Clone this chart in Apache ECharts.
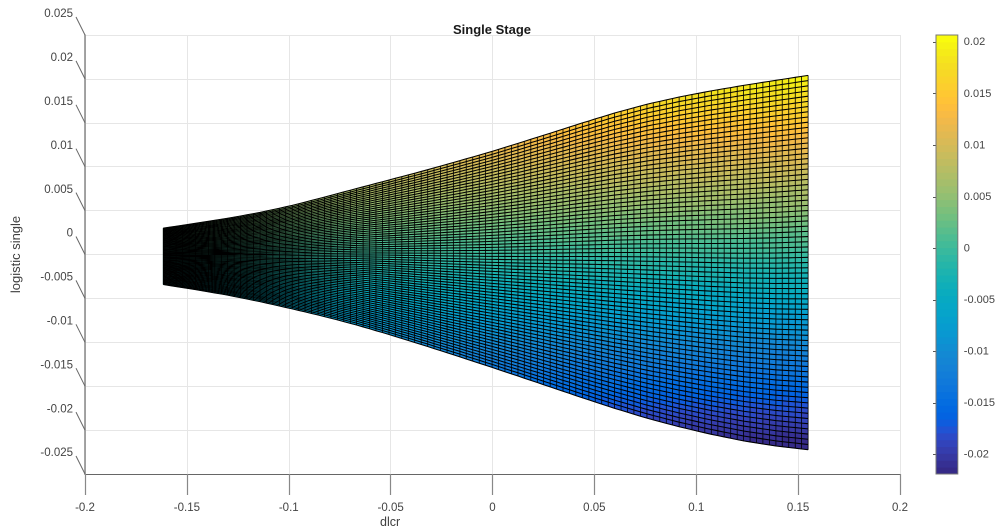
<!DOCTYPE html>
<html>
<head>
<meta charset="utf-8">
<style>html,body{margin:0;padding:0;background:#fff}#c{width:998px;height:528px}#c canvas{filter:blur(0.4px)}</style>
<script src="https://cdn.jsdelivr.net/npm/echarts@6/dist/echarts.min.js"></script>
</head>
<body>
<div id="c"></div>
<script>
const columnX = [
-0.1616,-0.1584,-0.1553,-0.1521,-0.1489,-0.1458,-0.1426,-0.1394,-0.1363,-0.1331,
-0.1300,-0.1268,-0.1236,-0.1205,-0.1173,-0.1141,-0.1110,-0.1078,-0.1046,-0.1015,
-0.0983,-0.0951,-0.0920,-0.0888,-0.0856,-0.0825,-0.0793,-0.0761,-0.0730,-0.0698,
-0.0667,-0.0635,-0.0603,-0.0572,-0.0540,-0.0508,-0.0477,-0.0445,-0.0413,-0.0382,
-0.0350,-0.0318,-0.0287,-0.0255,-0.0223,-0.0192,-0.0160,-0.0129,-0.0097,-0.0065,
-0.0034,-0.0002,0.0030,0.0061,0.0093,0.0125,0.0156,0.0188,0.0220,0.0251,
0.0283,0.0315,0.0346,0.0378,0.0409,0.0441,0.0473,0.0504,0.0536,0.0568,
0.0599,0.0631,0.0663,0.0694,0.0726,0.0758,0.0789,0.0821,0.0853,0.0884,
0.0916,0.0948,0.0979,0.1011,0.1042,0.1074,0.1106,0.1137,0.1169,0.1201,
0.1232,0.1264,0.1296,0.1327,0.1359,0.1391,0.1422,0.1454,0.1486,0.1517,0.1549];
const upperEdge = [
.00300,.00311,.00322,.00333,.00344,.00355,.00367,.00378,.00390,.00401,
.00413,.00426,.00439,.00453,.00466,.00479,.00495,.00511,.00527,.00543,
.00559,.00578,.00597,.00616,.00635,.00654,.00674,.00693,.00713,.00732,
.00752,.00771,.00790,.00810,.00829,.00848,.00868,.00887,.00907,.00926,
.00946,.00966,.00987,.01007,.01028,.01048,.01069,.01090,.01111,.01132,
.01153,.01175,.01198,.01220,.01243,.01265,.01288,.01312,.01335,.01358,
.01381,.01405,.01428,.01452,.01475,.01499,.01521,.01544,.01566,.01589,
.01611,.01631,.01651,.01671,.01691,.01711,.01728,.01744,.01761,.01777,
.01794,.01808,.01822,.01836,.01850,.01864,.01876,.01889,.01901,.01914,
.01926,.01938,.01949,.01961,.01972,.01984,.01995,.02006,.02018,.02029,.02040];
const lowerEdge = [
-.00342,-.00354,-.00365,-.00377,-.00388,-.00400,-.00413,-.00425,-.00438,-.00450,
-.00463,-.00478,-.00493,-.00507,-.00522,-.00537,-.00553,-.00570,-.00586,-.00603,
-.00619,-.00637,-.00654,-.00672,-.00689,-.00707,-.00726,-.00745,-.00765,-.00784,
-.00803,-.00825,-.00846,-.00868,-.00889,-.00911,-.00934,-.00957,-.00979,-.01002,
-.01025,-.01048,-.01072,-.01095,-.01119,-.01142,-.01166,-.01190,-.01214,-.01238,
-.01262,-.01286,-.01311,-.01335,-.01360,-.01384,-.01409,-.01434,-.01458,-.01483,
-.01508,-.01533,-.01558,-.01582,-.01607,-.01632,-.01656,-.01680,-.01704,-.01728,
-.01752,-.01774,-.01797,-.01819,-.01842,-.01864,-.01884,-.01903,-.01923,-.01942,
-.01962,-.01979,-.01996,-.02014,-.02031,-.02048,-.02063,-.02078,-.02093,-.02108,
-.02123,-.02135,-.02146,-.02158,-.02169,-.02181,-.02189,-.02198,-.02206,-.02215,-.02223];
const rowFractions = [
0,.0139,.0278,.0417,.0556,.0694,.0833,.0972,.1111,.1250,.1389,.1528,.1667,.1806,.1944,.2083,.2222,.2361,.2500,
.2639,.2778,.2917,.3056,.3194,.3333,.3472,.3611,.3750,.3889,.4028,.4167,.4306,.4444,.4583,.4722,.4861,.5000,
.5139,.5278,.5417,.5556,.5694,.5833,.5972,.6111,.6250,.6389,.6528,.6667,.6806,.6944,.7083,.7222,.7361,.7500,
.7639,.7778,.7917,.8056,.8194,.8333,.8472,.8611,.8750,.8889,.9028,.9167,.9306,.9444,.9583,.9722,.9861,1];
const parula = [
[.2081,.1663,.5292],[.2116,.1898,.5777],[.2123,.2138,.6270],[.2081,.2386,.6771],[.1959,.2645,.7279],[.1707,.2919,.7792],
[.1253,.3242,.8303],[.0591,.3598,.8683],[.0117,.3875,.8820],[.0060,.4086,.8828],[.0165,.4266,.8786],[.0329,.4430,.8720],
[.0498,.4586,.8641],[.0629,.4737,.8554],[.0723,.4887,.8467],[.0779,.5040,.8384],[.0793,.5200,.8312],[.0749,.5375,.8263],
[.0641,.5570,.8240],[.0488,.5772,.8228],[.0343,.5966,.8199],[.0265,.6137,.8135],[.0239,.6287,.8038],[.0231,.6418,.7913],
[.0228,.6535,.7768],[.0267,.6642,.7607],[.0384,.6743,.7436],[.0590,.6838,.7254],[.0843,.6928,.7062],[.1133,.7015,.6859],
[.1453,.7098,.6646],[.1801,.7177,.6424],[.2178,.7250,.6193],[.2586,.7317,.5954],[.3022,.7376,.5712],[.3482,.7424,.5473],
[.3953,.7459,.5244],[.4420,.7481,.5033],[.4871,.7491,.4840],[.5300,.7491,.4661],[.5709,.7485,.4494],[.6099,.7473,.4337],
[.6473,.7456,.4188],[.6834,.7435,.4044],[.7184,.7411,.3905],[.7525,.7384,.3768],[.7858,.7356,.3633],[.8185,.7327,.3498],
[.8507,.7299,.3360],[.8824,.7274,.3217],[.9139,.7258,.3063],[.9450,.7261,.2886],[.9739,.7314,.2666],[.9938,.7455,.2403],
[.9990,.7653,.2164],[.9955,.7861,.1967],[.9880,.8066,.1794],[.9789,.8271,.1633],[.9697,.8481,.1475],[.9626,.8705,.1309],
[.9589,.8949,.1132],[.9598,.9218,.0948],[.9661,.9514,.0755],[.9763,.9831,.0538]];
const yTicks = [-0.025,-0.02,-0.015,-0.01,-0.005,0,0.005,0.01,0.015,0.02,0.025];
const colorbarTicks = [-0.02,-0.015,-0.01,-0.005,0,0.005,0.01,0.015,0.02];
const cMin = -0.0219, cMax = 0.0207;

const toCss = c => 'rgb(' + c.map(v => Math.round(v * 255)).join(',') + ')';
const colorFor = v => {
  const i = Math.floor((v - cMin) / (cMax - cMin) * parula.length);
  return toCss(parula[Math.max(0, Math.min(parula.length - 1, i))]);
};
const rowValue = (c, r) => lowerEdge[c] + (upperEdge[c] - lowerEdge[c]) * rowFractions[r];

const cells = [];
for (let c = 0; c < columnX.length - 1; c++)
  for (let r = 0; r < rowFractions.length - 1; r++) cells.push([c, r]);

const FONT = '"Liberation Sans", Arial, sans-serif';
const chart = echarts.init(document.getElementById('c'), null, {renderer: 'canvas', devicePixelRatio: 2});
chart.setOption({
  animation: false,
  backgroundColor: '#fff',
  textStyle: {fontFamily: FONT},
  title: [
    {text: 'Single Stage', left: 487, top: 19, textAlign: 'center',
     textStyle: {fontFamily: FONT, fontSize: 13, fontWeight: 'bold', color: '#1a1a1a'}},
    {text: 'dlcr', left: 375, top: 511,
     textStyle: {fontFamily: FONT, fontSize: 12.5, fontWeight: 'normal', color: '#404040'}}
  ],
  grid: [
    {left: 85, top: 35, width: 815, height: 439},
    {left: 936, top: 35, width: 23, height: 439}
  ],
  xAxis: [
    {gridIndex: 0, type: 'value', min: -0.2, max: 0.2, interval: 0.05,
     axisLine: {onZero: false, lineStyle: {color: '#666', width: 1}},
     axisTick: {show: true, length: 21, lineStyle: {color: '#888', width: 1.2}},
     axisLabel: {fontFamily: FONT, fontSize: 11.5, color: '#444', margin: 28, showMinLabel: true, showMaxLabel: true},
     splitLine: {show: true, lineStyle: {color: '#e6e6e6', width: 1}}},
    {gridIndex: 1, type: 'value', min: 0, max: 1, show: false}
  ],
  yAxis: [
    {gridIndex: 0, type: 'value', min: -0.025, max: 0.025, interval: 0.005,
     name: 'logistic single', nameLocation: 'middle', nameRotate: 90, nameGap: 62,
     nameTextStyle: {fontFamily: FONT, fontSize: 13, color: '#404040'},
     axisLine: {show: true, onZero: false, lineStyle: {color: '#888', width: 1.5}},
     axisTick: {show: false},
     axisLabel: {fontFamily: FONT, fontSize: 11.5, color: '#444', margin: 12, verticalAlign: 'bottom',
                 padding: [0, 0, 15, 0], showMinLabel: true, showMaxLabel: true},
     splitLine: {show: true, lineStyle: {color: '#e6e6e6', width: 1}}},
    {gridIndex: 1, type: 'value', min: cMin, max: cMax, position: 'right',
     axisLine: {show: false},
     axisTick: {show: true, inside: true, length: 3, customValues: colorbarTicks, lineStyle: {color: '#555', width: 1}},
     axisLabel: {fontFamily: FONT, fontSize: 11, color: '#444', margin: 6, customValues: colorbarTicks},
     splitLine: {show: false}}
  ],
  series: [
    {type: 'custom', xAxisIndex: 0, yAxisIndex: 0, clip: false, silent: true, z: 3,
     data: yTicks,
     renderItem: (p, api) => {
       const pt = api.coord([-0.2, api.value(0)]);
       return {type: 'line',
               shape: {x1: pt[0], y1: pt[1], x2: pt[0] - 9, y2: pt[1] - 18},
               style: {stroke: '#666', lineWidth: 1}};
     }},
    {type: 'custom', xAxisIndex: 0, yAxisIndex: 0, clip: false, silent: true, z: 4,
     progressive: 0, data: cells,
     renderItem: (p, api) => {
       const c = api.value(0), r = api.value(1);
       const pts = [
         api.coord([columnX[c], rowValue(c, r)]),
         api.coord([columnX[c + 1], rowValue(c + 1, r)]),
         api.coord([columnX[c + 1], rowValue(c + 1, r + 1)]),
         api.coord([columnX[c], rowValue(c, r + 1)])
       ];
       const col = colorFor(rowValue(c, r));
       return {type: 'polygon', shape: {points: pts}, style: {fill: col, stroke: col, lineWidth: 0.6}};
     }},
    {type: 'custom', xAxisIndex: 0, yAxisIndex: 0, clip: false, silent: true, z: 5,
     data: rowFractions.map((f, r) => [r]),
     renderItem: (p, api) => {
       const r = api.value(0);
       return {type: 'polyline',
               shape: {points: columnX.map((x, c) => api.coord([x, rowValue(c, r)]))},
               style: {fill: 'none', stroke: '#000', lineWidth: 1.05}};
     }},
    {type: 'custom', xAxisIndex: 0, yAxisIndex: 0, clip: false, silent: true, z: 6,
     data: columnX.map((x, c) => [c]),
     renderItem: (p, api) => {
       const c = api.value(0);
       const a = api.coord([columnX[c], lowerEdge[c]]), b = api.coord([columnX[c], upperEdge[c]]);
       return {type: 'line',
               shape: {x1: a[0], y1: a[1], x2: b[0], y2: b[1]},
               style: {stroke: '#000', lineWidth: 0.8}};
     }},
    {type: 'custom', xAxisIndex: 1, yAxisIndex: 1, silent: true, z: 3,
     data: parula.map((c, i) => [i]),
     renderItem: (p, api) => {
       const i = api.value(0), n = parula.length;
       const a = api.coord([0, cMin + (cMax - cMin) * i / n]);
       const b = api.coord([1, cMin + (cMax - cMin) * (i + 1) / n]);
       return {type: 'rect',
               shape: {x: a[0], y: b[1], width: b[0] - a[0], height: a[1] - b[1] + 0.5},
               style: {fill: toCss(parula[i])}};
     }},
    {type: 'custom', xAxisIndex: 1, yAxisIndex: 1, silent: true, z: 5,
     data: [[0]],
     renderItem: (p, api) => {
       const a = api.coord([0, cMin]), b = api.coord([1, cMax]);
       return {type: 'rect',
               shape: {x: a[0], y: b[1], width: b[0] - a[0], height: a[1] - b[1]},
               style: {fill: 'none', stroke: '#777', lineWidth: 1}};
     }}
  ]
});
</script>
</body>
</html>
